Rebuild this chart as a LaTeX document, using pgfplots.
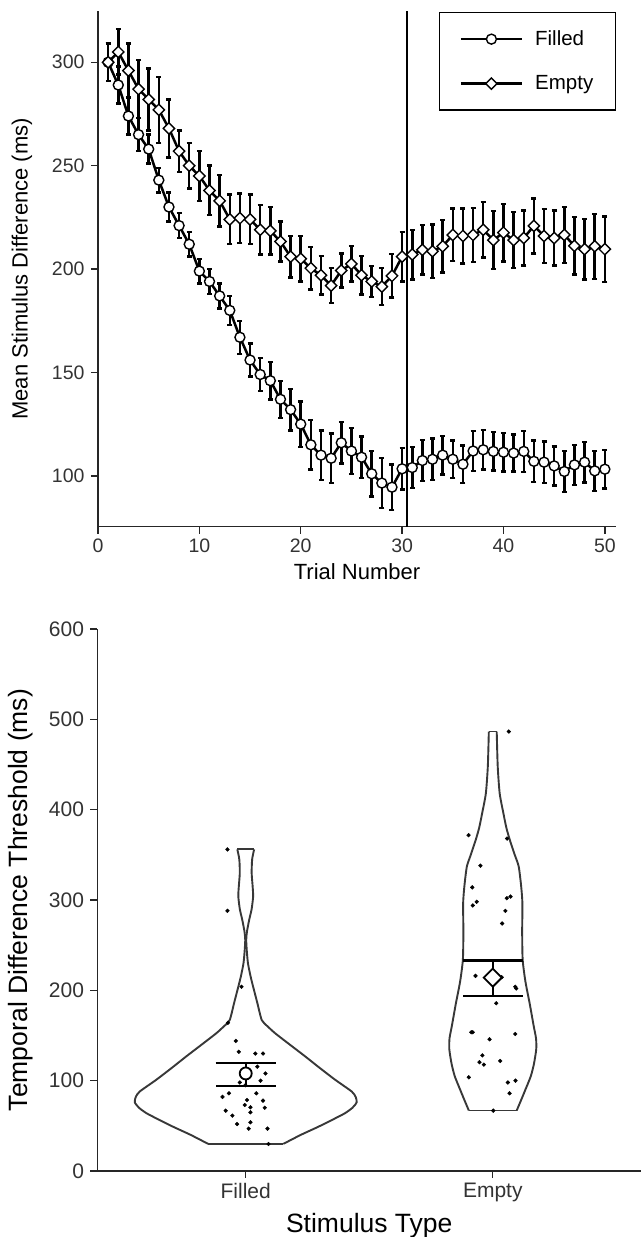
\documentclass[border=0pt]{standalone}
\usepackage{fontspec}
\setmainfont{Liberation Sans}
\usepackage{pgfplots}
\usepackage{pgfplotstable}
\pgfplotsset{compat=1.18}

\pgfplotstableread{
x y e
1 300 9
2 289 9
3 274 9
4 265 8
5 258 7
6 243 6
7 230 7
8 221 6
9 212 6
10 199 6
11 194 6
12 187 6
13 180 7
14 167 8
15 156 8
16 149 8
17 146 9
18 137 9
19 132 10
20 125 11
21 115 12
22 110 12
23 108.5 12
24 116 10
25 112 11
26 109 10
27 101 11
28 96.5 12
29 94.5 11
30 103.4 10
31 104 10
32 107.4 10
33 108 10
34 110 9.4
35 108 9
36 105.6 9
37 112 9.7
38 112.6 9.5
39 111.8 9.3
40 111.4 9.4
41 111 9
42 111.8 10
43 107 10
44 106.6 10
45 104.8 9.4
46 102.1 9.8
47 105.3 9.7
48 106.6 9.8
49 102.4 9.7
50 103.2 9.3
}\filledtab

\pgfplotstableread{
x y e
1 300 9
2 305 11
3 296 13
4 287 14
5 282 15
6 277 16
7 268 14
8 257 10
9 250 11
10 245 12
11 238 12
12 233 12.5
13 224 12
14 224.6 12
15 224 12
16 219 12
17 218.5 11.5
18 213.3 9.7
19 206 10
20 205 11
21 200.4 10.3
22 197 9.4
23 192 8.5
24 199.3 8.3
25 202.5 8.5
26 197 9.4
27 194 7.5
28 191.5 9
29 196.7 10.5
30 206 12
31 207 12
32 209.3 12
33 208.6 13
34 211 12.6
35 216.5 12.7
36 216 13.3
37 216.5 13
38 219 13.5
39 214 14
40 217.6 14
41 214 13.5
42 215 13.3
43 220.9 13.3
44 216 13
45 215 13.3
46 216.5 13.6
47 211.2 13.9
48 209.6 14.7
49 211 15.7
50 209.6 15.9
}\emptytab

\pgfplotstableread{
y w
30 0.152
40 0.223
49 0.294
58 0.360
64 0.402
70 0.432
76 0.449
82 0.445
88 0.429
101 0.362
114 0.300
127 0.240
140 0.178
152.5 0.119
160 0.089
167 0.065
186 0.047
204 0.030
215 0.020
230 0.009
245 0.004
256 0.002
265 0.005
278 0.014
290 0.024
304 0.030
315 0.028
330 0.024
345 0.026
356 0.034
}\violinF

\pgfplotstableread{
y w
67 0.097
80 0.117
90 0.132
105 0.154
119 0.167
135 0.176
147 0.175
160 0.166
186 0.149
210 0.132
234 0.121
265 0.119
296 0.120
315 0.115
337 0.105
350 0.089
366.5 0.069
380 0.055
396 0.043
418 0.028
448 0.020
486.5 0.016
}\violinE

\pgfplotstableread{
x y
0.926 356
0.926 288
0.983 204
0.928 164
0.960 144
0.972 132
1.039 130
1.070 130
1.047 115.5
1.080 108
1.060 100
0.976 98
0.999 95
0.932 86
1.043 86
0.906 82
1.005 78.6
1.070 77.9
0.996 73
1.019 70.5
1.077 70
0.919 66.8
1.019 65
0.946 61.3
1.019 53.9
0.965 52
1.012 46.9
1.088 46.9
1.092 29.9
}\pointsF

\pgfplotstableread{
x y
2.065 486.5
1.902 371.8
2.058 368
1.950 338
1.917 314
2.072 303.8
2.057 302
1.935 298
1.919 294
2.051 288
2.038 274
1.930 216
2.036 214.5
2.095 202
2.091 204
2.014 185.7
1.913 153.6
1.919 153.6
2.091 151.7
1.987 145.8
1.958 128
1.946 120.4
1.964 117.7
2.030 121.8
1.903 103.7
2.061 98
2.092 100
2.068 86
2.002 66.8
}\pointsE

\pgfplotsset{
  myaxis/.style={
    scale only axis,
    anchor=south west,
    axis x line*=bottom, axis y line*=left,
    axis line style={line width=1.4pt, black!85, -},
    tick align=outside,
    major tick length=7pt,
    every tick/.style={line width=1.4pt, black!85},
    /pgf/number format/assume math mode=true,
    clip=false,
  },
  longlegend/.style={
    legend image code/.code={\draw[mark repeat=2, mark phase=2, ##1, line width=2.5pt] plot coordinates {(0pt,0pt) (30.5pt,0pt) (61pt,0pt)};}
  },
  toperr/.style={
    error bars/.cd, y dir=both, y explicit,
    error bar style={line width=2.5pt, black},
    error mark options={rotate=90, mark size=2.5pt, line width=2.4pt, black}
  },
}

\begin{document}
\begin{tikzpicture}[x=1pt,y=1pt]
\useasboundingbox (0,0) rectangle (641,1237);

\begin{axis}[myaxis,
  at={(98pt,710.3pt)},
  width=518pt, height=515.7pt,
  xmin=0, xmax=51.1, ymin=75.4, ymax=324.8,
  xtick={0,10,20,30,40,50},
  ytick={100,150,200,250,300},
  tick label style={font=\fontsize{19.5}{22}\selectfont, text=black!80},
  xticklabel style={yshift=-2pt},
  yticklabel style={xshift=-3pt},
  xlabel={Trial Number},
  ylabel={Mean Stimulus Difference (ms)},
  label style={font=\fontsize{22}{26}\selectfont},
  xlabel style={at={(axis description cs:0.5,-0.088)}, anchor=center},
  ylabel style={at={(axis description cs:-0.147,0.5)}, anchor=center},
  legend style={at={(1,0.9986)}, anchor=north east, draw=black, line width=1.5pt,
    font=\fontsize{20.5}{24}\selectfont, inner xsep=20pt, inner ysep=16.5pt,
    row sep=24.5pt, cells={anchor=west}},
]
\addplot[black, line width=1.8pt, forget plot] coordinates {(30.5,75.4) (30.5,324.8)};

\addplot[black, line width=2.5pt, mark=*, mark size=5pt,
  mark options={fill=white, draw=black, line width=1.4pt},
  longlegend, toperr]
  table[x=x, y=y, y error=e] {\filledtab};
\addlegendentry{\hspace{10pt}Filled}

\addplot[black, line width=2.5pt, mark=square*, mark size=4pt,
  mark options={fill=white, draw=black, line width=1.4pt, rotate=45},
  longlegend, toperr]
  table[x=x, y=y, y error=e] {\emptytab};
\addlegendentry{\hspace{10pt}Empty}
\end{axis}

\begin{axis}[myaxis,
  at={(97.5pt,66pt)},
  width=543.5pt, height=542pt,
  xmin=0.4, xmax=2.6, ymin=0, ymax=600,
  xtick={1,2}, xticklabels={Filled,Empty},
  ytick={0,100,200,300,400,500,600},
  tick label style={font=\fontsize{21}{24}\selectfont, text=black!80},
  xticklabel style={yshift=-2pt},
  yticklabel style={xshift=-3pt},
  xlabel={Stimulus Type},
  ylabel={Temporal Difference Threshold (ms)},
  label style={font=\fontsize{26.5}{30}\selectfont},
  xlabel style={at={(axis description cs:0.5,-0.1015)}, anchor=center},
  ylabel style={at={(axis description cs:-0.141,0.5)}, anchor=center},
]
% Filled violin
\addplot[black!78, line width=1.9pt, smooth, tension=0.4] table[x expr=1+\thisrow{w}, y=y] {\violinF};
\addplot[black!78, line width=1.9pt, smooth, tension=0.4] table[x expr=1-\thisrow{w}, y=y] {\violinF};
\addplot[black!78, line width=1.9pt] coordinates {(0.848,30) (1.152,30)};
\addplot[black!78, line width=1.9pt] coordinates {(0.966,356) (1.034,356)};
% Empty violin
\addplot[black!78, line width=1.9pt, smooth, tension=0.4] table[x expr=2+\thisrow{w}, y=y] {\violinE};
\addplot[black!78, line width=1.9pt, smooth, tension=0.4] table[x expr=2-\thisrow{w}, y=y] {\violinE};
\addplot[black!78, line width=1.9pt] coordinates {(1.903,67) (2.097,67)};
\addplot[black!78, line width=1.9pt] coordinates {(1.984,486.5) (2.016,486.5)};
% points
\addplot[only marks, mark=*, mark size=1.9pt, black] table[x=x,y=y] {\pointsF};
\addplot[only marks, mark=*, mark size=1.9pt, black] table[x=x,y=y] {\pointsE};
% means with SE
\addplot[draw=none, mark=*, mark size=6pt,
  mark options={fill=white, draw=black, line width=1.8pt},
  error bars/.cd, y dir=both, y explicit,
  error bar style={line width=2.2pt, black},
  error mark options={rotate=90, mark size=30pt, line width=2.2pt, black}]
  coordinates {(1,108) += (0,12) -= (0,14)};
\addplot[draw=none, mark=square*, mark size=6.4pt,
  mark options={fill=white, draw=black, line width=1.8pt, rotate=45},
  error bars/.cd, y dir=both, y explicit,
  error bar style={line width=2.2pt, black},
  error mark options={rotate=90, mark size=30pt, line width=2.2pt, black}]
  coordinates {(2,214) += (0,19) -= (0,20)};
\end{axis}
\end{tikzpicture}
\end{document}
